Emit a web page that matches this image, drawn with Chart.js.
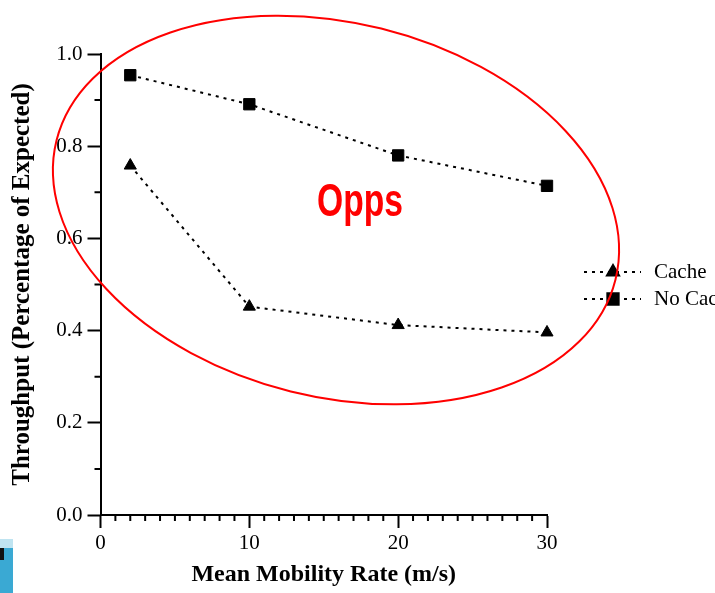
<!DOCTYPE html>
<html>
<head>
<meta charset="utf-8">
<script src="https://cdn.jsdelivr.net/npm/chart.js@4/dist/chart.umd.min.js"></script>
<style>
  html, body { margin: 0; padding: 0; background: #ffffff; }
  #wrap { width: 715px; height: 593px; position: relative; }
</style>
</head>
<body>
<div id="wrap"><canvas id="c" width="715" height="593"></canvas></div>
<script>
// ---- data ----
const mobilityRates = [2, 10, 20, 30];
const cacheThroughput = [0.758, 0.452, 0.412, 0.396];
const noCacheThroughput = [0.954, 0.891, 0.780, 0.714];
const seriesLabels = ['Cache', 'No Cache'];
const xTickValues = [0, 10, 20, 30];
const yTickValues = [0.0, 0.2, 0.4, 0.6, 0.8, 1.0];
const xAxisTitle = 'Mean Mobility Rate (m/s)';
const yAxisTitle = 'Throughput (Percentage of Expected)';
const annotationText = 'Opps';

const serif = "'Liberation Serif', 'Times New Roman', serif";

const toPoints = (xs, ys) => xs.map((x, i) => ({ x: x, y: ys[i] }));

const decorPlugin = {
  id: 'decor',
  beforeDraw(chart) {
    const ctx = chart.ctx;
    ctx.save();
    // slide decoration in the bottom-left corner
    ctx.fillStyle = '#bfe4f1';
    ctx.fillRect(0, 539, 13, 10);
    ctx.fillStyle = '#3aa9d3';
    ctx.fillRect(0, 548, 13, 45);
    ctx.fillStyle = '#111111';
    ctx.fillRect(0, 548, 4, 12);
    ctx.restore();
  },
  afterDraw(chart) {
    const ctx = chart.ctx;
    const xs = chart.scales.x, ys = chart.scales.y;
    ctx.save();
    // minor ticks
    ctx.strokeStyle = '#000';
    ctx.lineWidth = 2;
    ctx.beginPath();
    for (let v = 1; v < 30; v++) {
      if (v % 10 === 0) continue;
      const px = xs.getPixelForValue(v);
      ctx.moveTo(px, ys.bottom);
      ctx.lineTo(px, ys.bottom + 6);
    }
    for (let k = 1; k < 10; k += 2) {
      const py = ys.getPixelForValue(k / 10);
      ctx.moveTo(xs.left, py);
      ctx.lineTo(xs.left - 6, py);
    }
    ctx.stroke();

    // legend (outside the plot, to the right)
    const rows = [272, 299];
    chart.data.datasets.forEach((ds, i) => {
      const y = rows[i];
      ctx.save();
      ctx.strokeStyle = '#000';
      ctx.lineWidth = 2;
      ctx.setLineDash([3, 5]);
      ctx.beginPath();
      ctx.moveTo(584, y);
      ctx.lineTo(641, y);
      ctx.stroke();
      ctx.restore();
      Chart.helpers.drawPoint(ctx, {
        pointStyle: ds.pointStyle, radius: ds.pointRadius, borderWidth: 1
      }, 613, y);
      ctx.fillStyle = '#000';
      ctx.font = '21px ' + serif;
      ctx.textBaseline = 'alphabetic';
      ctx.textAlign = 'left';
      ctx.fillText(ds.label, 654, y + 6);
    });

    // red annotation
    ctx.fillStyle = '#ff0000';
    ctx.font = "bold 48px 'Liberation Sans Narrow', 'Liberation Sans', Arial, sans-serif";
    const w = ctx.measureText(annotationText).width;
    ctx.save();
    ctx.translate(317, 216);
    ctx.scale(86 / w, 0.95);
    ctx.textAlign = 'left';
    ctx.textBaseline = 'alphabetic';
    ctx.fillText(annotationText, 0, 0);
    ctx.restore();

    ctx.strokeStyle = '#ff0000';
    ctx.lineWidth = 2;
    ctx.beginPath();
    ctx.ellipse(336, 210, 288, 187, 14 * Math.PI / 180, 0, Math.PI * 2);
    ctx.stroke();
    ctx.restore();
  }
};

const common = {
  borderColor: '#000',
  backgroundColor: '#000',
  pointBackgroundColor: '#000',
  pointBorderColor: '#000',
  borderWidth: 2,
  borderDash: [3, 5],
  pointBorderWidth: 1,
  fill: false,
  tension: 0,
  clip: false
};

new Chart(document.getElementById('c'), {
  type: 'line',
  data: {
    datasets: [
      Object.assign({ label: seriesLabels[0], data: toPoints(mobilityRates, cacheThroughput),
        pointStyle: 'triangle', pointRadius: 7 }, common),
      Object.assign({ label: seriesLabels[1], data: toPoints(mobilityRates, noCacheThroughput),
        pointStyle: 'rect', pointRadius: 8 }, common)
    ]
  },
  options: {
    responsive: false,
    animation: false,
    devicePixelRatio: 1,
    layout: { padding: { left: 0, right: 168, top: 54, bottom: 0 } },
    plugins: { legend: { display: false }, tooltip: { enabled: false } },
    scales: {
      x: {
        type: 'linear',
        min: 0, max: 30,
        afterBuildTicks: (s) => { s.ticks = xTickValues.map(v => ({ value: v })); },
        afterFit: (s) => { s.height = 78; },
        border: { display: true, color: '#000', width: 2 },
        grid: { display: true, drawOnChartArea: false, drawTicks: true, tickLength: 13,
                tickColor: '#000', tickWidth: 2, color: '#000' },
        ticks: { color: '#000', font: { family: serif, size: 21 }, padding: 3, maxRotation: 0,
                 callback: (v) => String(v) },
        title: { display: true, text: xAxisTitle, color: '#000',
                 font: { family: serif, size: 24, weight: 'bold' }, padding: { top: 0, bottom: 4 } }
      },
      y: {
        type: 'linear',
        min: 0, max: 1,
        afterBuildTicks: (s) => { s.ticks = yTickValues.map(v => ({ value: v })); },
        afterFit: (s) => { s.width = 100.5; },
        border: { display: true, color: '#000', width: 2 },
        grid: { display: true, drawOnChartArea: false, drawTicks: true, tickLength: 13,
                tickColor: '#000', tickWidth: 2, color: '#000' },
        ticks: { color: '#000', font: { family: serif, size: 21 }, padding: 5,
                 callback: (v) => Number(v).toFixed(1) },
        title: { display: true, text: yAxisTitle, color: '#000',
                 font: { family: serif, size: 25, weight: 'bold' }, padding: { top: 8, bottom: 0 } }
      }
    }
  },
  plugins: [decorPlugin]
});
</script>
</body>
</html>
